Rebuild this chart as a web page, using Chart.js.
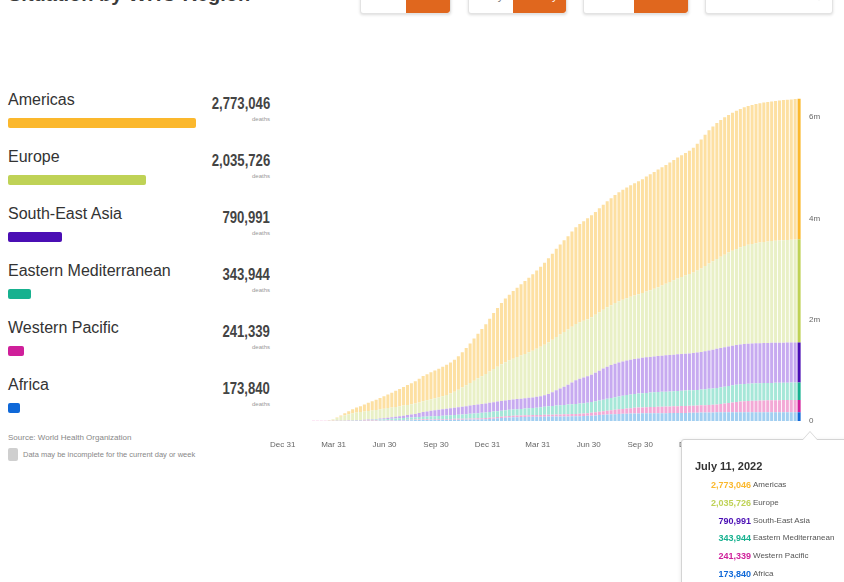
<!DOCTYPE html>
<html lang="en">
<head>
<meta charset="UTF-8">
<title>Situation by WHO Region</title>
<script src="https://cdn.jsdelivr.net/npm/chart.js"></script>
<style>
    body {
        margin: 0;
        width: 844px;
        height: 582px;
        overflow: hidden;
        position: relative;
        background: #fff;
        font-family: "Liberation Sans", Arial, sans-serif;
        color: #333;
    }

    .title {
        position: absolute;
        left: 8px;
        top: -18px;
        font-size: 20px;
        font-weight: bold;
        line-height: 24px;
        color: #3a3a3a;
        white-space: nowrap;
    }

    .toggle {
        position: absolute;
        top: -20px;
        height: 32px;
        display: flex;
        background: #fff;
        border: 1px solid #e3e3e3;
        border-radius: 3px;
        box-shadow: 0 1px 3px rgba(0, 0, 0, 0.14);
        font-size: 11px;
        line-height: 30px;
        overflow: hidden;
    }
    .toggle span { display: block; text-align: center; color: #777; }
    .toggle span.on { background: #e0671e; color: #fff; border-radius: 0 3px 3px 0; }
    .toggle .chev {
        position: absolute; right: 10px; top: 12px; width: 5px; height: 5px;
        border-right: 1px solid #999; border-bottom: 1px solid #999; transform: rotate(45deg);
    }

    .row { position: absolute; left: 8px; width: 262px; height: 40px; }
    .row .name { position: absolute; left: 0; top: 0; font-size: 16px; line-height: 18px; color: #333; white-space: nowrap; }
    .row .bar { position: absolute; left: 0; top: 27px; height: 10px; border-radius: 2px; }
    .row .value {
        position: absolute; right: 0; top: 4px; font-size: 16px; line-height: 18px; font-weight: bold;
        color: #444; transform: scaleX(0.82); transform-origin: right center; white-space: nowrap;
    }
    .row .unit { position: absolute; right: 0; top: 24px; font-size: 6px; line-height: 8px; color: #999; }

    .source { position: absolute; left: 8px; top: 433px; font-size: 8px; line-height: 10px; color: #888; }
    .note { position: absolute; left: 23px; top: 450px; font-size: 7.5px; line-height: 10px; color: #888; white-space: nowrap; }
    .note-box { position: absolute; left: 8px; top: 448px; width: 10px; height: 13px; background: #cfcfcf; border-radius: 2px; }

    #chartWrap { position: absolute; left: 250px; top: 70px; }

    .tip {
        position: absolute; left: 681px; top: 439px; width: 180px; height: 160px;
        background: #fff; border: 1px solid #d4d4d4; border-radius: 3px;
        box-shadow: 0 1px 4px rgba(0, 0, 0, 0.1);
    }
    .tip:before, .tip:after {
        content: ""; position: absolute; left: 120px; width: 0; height: 0;
        border-left: 8px solid transparent; border-right: 8px solid transparent;
    }
    .tip:before { top: -9px; border-bottom: 9px solid #d4d4d4; }
    .tip:after { top: -8px; border-bottom: 9px solid #fff; }
    .tip .date { position: absolute; left: 13px; top: 19px; font-size: 11px; line-height: 14px; font-weight: bold; color: #333; white-space: nowrap; }
    .tip .line { position: absolute; left: 0; height: 10px; width: 200px; font-size: 8px; line-height: 10px; white-space: nowrap; }
    .tip .num { position: absolute; left: 0; width: 69px; text-align: right; font-weight: bold; font-size: 9px; }
    .tip .lbl { position: absolute; left: 71px; color: #555; }
</style>
</head>
<body>
    <div class="title">Situation by WHO Region</div>

    <div class="toggle" style="left:360px;width:89px"><span style="width:45px">Cases</span><span class="on" style="width:44px">Deaths</span></div>
    <div class="toggle" style="left:468px;width:97px"><span style="width:44px">Daily</span><span class="on" style="width:53px">Weekly</span></div>
    <div class="toggle" style="left:583px;width:104px"><span style="width:50px">New</span><span class="on" style="width:54px">Total</span></div>
    <div class="toggle" style="left:705px;width:126px"><span style="width:40px">All</span><i class="chev"></i></div>

    <div id="regionList"></div>

    <div class="source">Source: World Health Organization</div>
    <div class="note-box"></div>
    <div class="note">Data may be incomplete for the current day or week</div>

    <div id="chartWrap"><canvas id="deathsChart" width="594" height="390"></canvas></div>

    <div class="tip" id="tip"></div>

<script>
    // Cumulative deaths in thousands, one value per week (Mondays, 6 Jan 2020 .. 11 Jul 2022)
    const firstWeekDay = 6;   // days after 31 Dec 2019
    const lastDateLabel = "July 11, 2022";

    const regions = ["Americas", "Europe", "South-East Asia", "Eastern Mediterranean", "Western Pacific", "Africa"];

    const americas = [
        0, 0, 0, 0, 0, 0, 0, 0, 0, 0,
        0.1, 0.6, 3.5, 11, 25, 43, 60, 80, 98, 115,
        135, 160, 180, 200, 222, 245, 268, 292, 318, 343,
        368, 392, 415, 438, 470, 498, 516, 533, 550, 566,
        582, 598, 615, 632, 660, 695, 735, 780, 830, 880,
        930, 985, 1045, 1105, 1160, 1210, 1255, 1295, 1335, 1370,
        1405, 1440, 1475, 1510, 1545, 1580, 1620, 1660, 1700, 1740,
        1775, 1810, 1845, 1880, 1910, 1940, 1965, 1990, 2012, 2032,
        2052, 2072, 2092, 2112, 2132, 2150, 2168, 2185, 2200, 2215,
        2228, 2245, 2270, 2290, 2306, 2320, 2334, 2347, 2360, 2374,
        2389, 2404, 2418, 2436, 2460, 2500, 2545, 2590, 2630, 2660,
        2682, 2698, 2710, 2718, 2724, 2729, 2733, 2737, 2741, 2744,
        2747, 2750, 2753, 2755, 2757, 2759, 2761, 2764, 2767, 2769,
        2771, 2773.046
    ];
    const europe = [
        0, 0, 0, 0, 0, 0, 0, 0, 0.05, 0.5,
        2.5, 8, 25, 50, 75, 100, 120, 137, 148, 157,
        165, 171, 176, 180, 184, 188, 191, 193, 195, 197,
        199, 201, 203, 205, 209, 215, 220, 227, 234, 242,
        253, 268, 288, 314, 345, 379, 413, 447, 482, 517,
        548, 580, 617, 654, 690, 725, 755, 782, 806, 830,
        852, 875, 898, 923, 948, 973, 995, 1017, 1036, 1053,
        1068, 1080, 1090, 1100, 1108, 1115, 1121, 1128, 1135, 1143,
        1152, 1162, 1172, 1183, 1195, 1207, 1219, 1231, 1243, 1255,
        1268, 1282, 1298, 1316, 1337, 1360, 1385, 1412, 1440, 1468,
        1495, 1520, 1543, 1566, 1592, 1620, 1650, 1682, 1715, 1746,
        1775, 1802, 1828, 1852, 1875, 1897, 1918, 1937, 1953, 1966,
        1977, 1987, 1995, 2002, 2008, 2013, 2018, 2023, 2027, 2030,
        2033, 2035.726
    ];
    const southEastAsia = [
        0, 0, 0, 0, 0, 0, 0, 0, 0, 0,
        0, 0.03, 0.1, 0.4, 0.8, 1.2, 1.8, 2.5, 3.3, 4.3,
        5.5, 7, 9, 12, 16, 20, 24, 28, 33, 38,
        45, 52, 59, 66, 78, 91, 100, 109, 117, 124,
        130, 135, 140, 145, 149, 153, 158, 163, 167, 171,
        175, 178, 182, 185, 188, 191, 193, 195, 197, 199,
        201, 203, 206, 209, 213, 219, 229, 246, 270, 300,
        330, 360, 390, 430, 470, 490, 505, 520, 540, 565,
        590, 615, 635, 650, 662, 670, 676, 681, 686, 690,
        694, 698, 701, 704, 707, 711, 714, 717, 720, 722,
        724, 726, 728, 730, 732, 736, 742, 750, 758, 765,
        771, 776, 779, 782, 784, 785.5, 786.5, 787.3, 788, 788.5,
        789, 789.3, 789.6, 789.9, 790.1, 790.3, 790.5, 790.6, 790.7, 790.8,
        790.9, 790.991
    ];
    const easternMediterranean = [
        0, 0, 0, 0, 0, 0, 0, 0.01, 0.07, 0.2,
        0.8, 1.8, 3, 4, 4.8, 5.5, 6.2, 7, 8, 9,
        10.5, 12.5, 15, 18, 21, 24, 27, 30, 33, 36,
        38.5, 40.5, 42.5, 44.5, 47.5, 50.5, 52.5, 55, 58, 61,
        64, 67.5, 71, 75, 79, 84, 89, 94, 98, 102,
        106, 109, 112, 115, 117, 119, 121, 123, 125, 127,
        130, 133, 137, 141, 146, 152, 158, 165, 171, 177,
        182, 186, 190, 194, 197, 200, 204, 208, 212, 217,
        223, 229, 236, 243, 250, 256, 261, 266, 270, 274,
        277, 280, 283, 286, 289, 291, 293, 295, 297, 299,
        301, 302.5, 304, 305.5, 307, 309, 311, 314, 318, 322,
        326, 329, 332, 334.5, 336.5, 338, 339.2, 340.2, 341, 341.6,
        342.1, 342.5, 342.8, 343, 343.2, 343.4, 343.5, 343.6, 343.7, 343.8,
        343.9, 343.944
    ];
    const westernPacific = [
        0, 0, 0.01, 0.08, 0.4, 0.9, 1.8, 2.6, 3, 3.2,
        3.3, 3.5, 3.8, 4.1, 4.4, 5.2, 5.6, 5.9, 6.1, 6.3,
        6.5, 6.7, 6.9, 7.1, 7.3, 7.6, 7.9, 8.2, 8.6, 9,
        9.5, 10, 10.6, 11.2, 12.1, 13, 13.6, 14.1, 14.6, 15.1,
        15.5, 15.9, 16.3, 16.7, 17.2, 17.8, 18.4, 19.1, 19.8, 20.6,
        21.4, 22.3, 23.4, 24.6, 25.9, 27, 28, 28.8, 29.5, 30.2,
        30.8, 31.4, 32, 32.7, 33.5, 34.5, 35.6, 36.7, 37.8, 39,
        40.3, 41.7, 43.2, 44.8, 46.5, 48.3, 50.3, 52.5, 55.5, 59.5,
        64, 69, 74, 79.5, 85, 91, 97, 102.5, 107, 111,
        114.5, 117.5, 120, 122, 124, 125.8, 127.5, 129.2, 131, 132.8,
        134.5, 136, 137.4, 138.6, 139.8, 141, 142.5, 144.5, 147.5, 151.5,
        157, 164, 173, 184, 195, 204, 211, 217, 221.5, 225,
        228, 230.5, 232.5, 234.2, 235.7, 237, 238.1, 239, 239.8, 240.4,
        240.9, 241.339
    ];
    const africa = [
        0, 0, 0, 0, 0, 0, 0, 0, 0, 0,
        0, 0.02, 0.06, 0.15, 0.25, 0.35, 0.5, 0.65, 0.8, 1,
        1.2, 1.5, 1.9, 2.4, 3, 3.8, 5, 6.5, 8.2, 10.2,
        12.2, 14.2, 16, 17.5, 19.5, 21.1, 21.9, 22.6, 23.2, 23.7,
        24.2, 24.7, 25.2, 25.7, 26.3, 27, 27.8, 28.8, 30, 31.7,
        34, 37, 41, 46, 52, 58, 64, 69, 73, 76,
        78.5, 80.5, 82, 83.3, 84.4, 85.4, 86.3, 87.1, 87.9, 88.6,
        89.3, 90, 90.8, 91.8, 93.2, 95.2, 98, 101.5, 106, 111,
        116.5, 122, 127, 131.5, 135.5, 139, 142, 144.5, 146.6, 148.3,
        149.7, 150.9, 151.9, 152.8, 153.5, 154.1, 154.7, 155.2, 155.7, 156.2,
        156.9, 157.8, 159, 160.5, 162.3, 164.3, 166, 167.5, 168.7, 169.7,
        170.5, 171.1, 171.6, 172, 172.3, 172.6, 172.8, 173, 173.1, 173.2,
        173.3, 173.4, 173.45, 173.5, 173.55, 173.6, 173.65, 173.7, 173.75, 173.78,
        173.81, 173.84
    ];

    // x axis: days after 31 Dec 2019
    const tickDays = [0, 91, 182, 274, 366, 456, 547, 639, 731, 821, 912];
    const tickLabels = ["Dec 31", "Mar 31", "Jun 30", "Sep 30", "Dec 31", "Mar 31", "Jun 30", "Sep 30", "Dec 31", "Mar 31", "Jun 30"];
    const yTicks = [0, 2000, 4000, 6000];

    const series = [americas, europe, southEastAsia, easternMediterranean, westernPacific, africa];
    const strongColors = ["#fbb82d", "#bfd256", "#4a0eb4", "#17b18f", "#cf1f9a", "#0f68d8"];
    const paleColors = ["#fde0a2", "#e9f0c6", "#c7aaf0", "#a6e7d8", "#f3a9d6", "#a2cff1"];

    const fmt = (k) => Math.round(k * 1000).toLocaleString("en-US");
    const latest = series.map(s => s[s.length - 1]);
    const maxLatest = Math.max(...latest);

    // left-hand list of regions with proportional bars
    const list = document.getElementById("regionList");
    regions.forEach((name, k) => {
        const row = document.createElement("div");
        row.className = "row";
        row.style.top = (91 + 57 * k) + "px";
        row.innerHTML =
            '<div class="name">' + name + '</div>' +
            '<div class="bar" style="width:' + Math.max(11, Math.round(latest[k] / maxLatest * 188)) +
            'px;background:' + strongColors[k] + '"></div>' +
            '<div class="value">' + fmt(latest[k]) + '</div>' +
            '<div class="unit">deaths</div>';
        list.appendChild(row);
    });

    // hover box for the latest week
    const tip = document.getElementById("tip");
    let tipHtml = '<div class="date">' + lastDateLabel + '</div>';
    regions.forEach((name, k) => {
        tipHtml += '<div class="line" style="top:' + (40 + 17.8 * k).toFixed(1) + 'px">' +
            '<span class="num" style="color:' + strongColors[k] + '">' + fmt(latest[k]) + '</span>' +
            '<span class="lbl">' + name + '</span></div>';
    });
    tip.innerHTML = tipHtml;

    const weekDays = americas.map((_, i) => firstWeekDay + 7 * i);
    const barColors = (k) => weekDays.map((_, i) => i === weekDays.length - 1 ? strongColors[k] : paleColors[k]);

    // stacked from the bottom: Africa first, Americas on top
    const datasets = [];
    for (let k = regions.length - 1; k >= 0; k--) {
        datasets.push({
            label: regions[k],
            data: series[k].map((v, i) => ({ x: weekDays[i], y: v })),
            backgroundColor: barColors(k),
            borderWidth: 0,
            barPercentage: 0.78,
            categoryPercentage: 1
        });
    }

    new Chart(document.getElementById("deathsChart"), {
        type: "bar",
        data: { datasets: datasets },
        options: {
            responsive: false,
            animation: false,
            events: [],
            layout: { padding: { left: 26, top: 21.7, right: 0, bottom: 0 } },
            plugins: {
                legend: { display: false },
                tooltip: { enabled: false }
            },
            scales: {
                x: {
                    type: "linear",
                    offset: false,
                    stacked: true,
                    min: -12,
                    max: 930,
                    grid: { display: false, drawTicks: false },
                    border: { display: false },
                    afterBuildTicks: (s) => { s.ticks = tickDays.map(v => ({ value: v })); },
                    afterFit: (s) => { s.height = 39; },
                    ticks: {
                        autoSkip: false,
                        maxRotation: 0,
                        padding: 19,
                        color: "#666",
                        font: { size: 8, family: "Liberation Sans, Arial, sans-serif" },
                        callback: (v, i) => tickLabels[i]
                    }
                },
                y: {
                    position: "right",
                    stacked: true,
                    min: 0,
                    max: 6500,
                    grid: { display: false, drawTicks: false },
                    border: { display: false },
                    afterBuildTicks: (s) => { s.ticks = yTicks.map(v => ({ value: v })); },
                    afterFit: (s) => { s.width = 41; },
                    ticks: {
                        padding: 6,
                        color: "#666",
                        font: { size: 8, family: "Liberation Sans, Arial, sans-serif" },
                        callback: (v) => v === 0 ? "0" : (v / 1000) + "m"
                    }
                }
            }
        }
    });
</script>
</body>
</html>
